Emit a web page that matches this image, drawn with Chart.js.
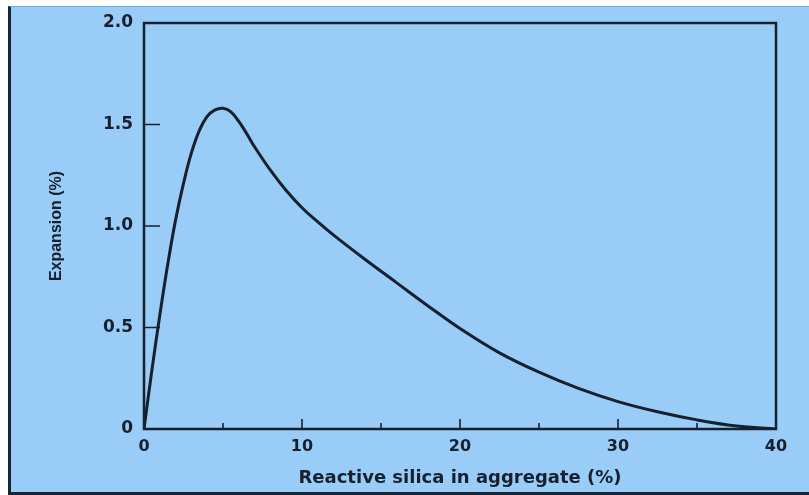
<!DOCTYPE html>
<html>
<head>
<meta charset="utf-8">
<script src="https://cdn.jsdelivr.net/npm/chart.js@4.4.0/dist/chart.umd.min.js"></script>
<style>
  html, body { margin: 0; padding: 0; background: #fff; }
  #wrap { position: relative; width: 809px; height: 495px; overflow: hidden; }
  #frame {
    position: absolute; left: 8px; top: 6px; right: 0; bottom: 0;
    background: #99cdf7;
    border-top: 1px solid #62a9e2;
    border-left: 3px solid #16263a;
    border-bottom: 3px solid #16263a;
  }
  #chart { position: absolute; left: 0; top: 0; }
</style>
</head>
<body>
<div id="wrap">
  <div id="frame"></div>
  <canvas id="chart" width="809" height="495"></canvas>
</div>
<script>
// readings taken off the figure
const silica    = [0, 0.5, 1.0, 1.5, 2.0, 2.5, 3.0, 3.5, 4.0, 4.5, 5.0, 5.5, 6.0, 6.5, 7.0, 8.0, 9.0, 10, 11, 12, 14, 16, 18, 20, 22.5, 25, 27.5, 30, 32.5, 35, 37.5, 40];
const expansion = [0, 0.29, 0.56, 0.81, 1.03, 1.21, 1.36, 1.47, 1.54, 1.572, 1.58, 1.562, 1.515, 1.455, 1.39, 1.275, 1.175, 1.09, 1.02, 0.955, 0.835, 0.72, 0.605, 0.495, 0.375, 0.28, 0.20, 0.135, 0.085, 0.045, 0.015, 0];

const xTicks = [0, 10, 20, 30, 40];
const xMinorTicks = [5, 15, 25, 35];
const yTicks = [0, 0.5, 1.0, 1.5, 2.0];

const ink = '#16202e';

// frame + inward tick marks, placed through the scales
const framePlugin = {
  id: 'frame',
  afterDatasetsDraw(chart) {
    const { ctx, chartArea: a, scales: { x, y } } = chart;
    ctx.save();
    ctx.strokeStyle = ink;
    ctx.lineWidth = 2.5;
    ctx.strokeRect(a.left, a.top, a.right - a.left, a.bottom - a.top);

    ctx.lineWidth = 1.6;
    ctx.beginPath();
    yTicks.forEach(v => {
      if (v === 0 || v === 2.0) return;
      const py = y.getPixelForValue(v);
      ctx.moveTo(a.left, py);
      ctx.lineTo(a.left + 16, py);
    });
    xTicks.forEach(v => {
      if (v === 0 || v === 40) return;
      const px = x.getPixelForValue(v);
      ctx.moveTo(px, a.bottom);
      ctx.lineTo(px, a.bottom - 10);
    });
    xMinorTicks.forEach(v => {
      const px = x.getPixelForValue(v);
      ctx.moveTo(px, a.bottom);
      ctx.lineTo(px, a.bottom - 6);
    });
    ctx.stroke();
    ctx.restore();
  }
};

new Chart(document.getElementById('chart'), {
  type: 'line',
  data: {
    datasets: [{
      data: silica.map((v, i) => ({ x: v, y: expansion[i] })),
      borderColor: ink,
      borderWidth: 3,
      pointRadius: 0,
      fill: false,
      tension: 0.4
    }]
  },
  options: {
    responsive: false,
    animation: false,
    layout: { padding: { left: 40, top: 23, right: 33, bottom: 6 } },
    plugins: { legend: { display: false }, tooltip: { enabled: false } },
    scales: {
      x: {
        type: 'linear',
        min: 0, max: 40,
        afterBuildTicks: s => { s.ticks = xTicks.map(v => ({ value: v })); },
        afterFit: s => { s.height = 60; },
        grid: { display: false, drawTicks: false },
        border: { display: false },
        ticks: {
          padding: 8,
          color: ink,
          font: { family: 'DejaVu Sans', size: 16, weight: 'bold' },
          maxRotation: 0
        },
        title: {
          display: true,
          text: 'Reactive silica in aggregate (%)',
          color: ink,
          padding: { top: 0, bottom: 0 },
          font: { family: 'DejaVu Sans', size: 18, weight: 'bold' }
        }
      },
      y: {
        min: 0, max: 2,
        afterBuildTicks: s => { s.ticks = yTicks.map(v => ({ value: v })); },
        afterFit: s => { s.width = 104; },
        grid: { display: false, drawTicks: false },
        border: { display: false },
        ticks: {
          padding: 11,
          color: ink,
          font: { family: 'DejaVu Sans', size: 17, weight: 'bold' },
          callback: v => (v === 0 ? '0' : v.toFixed(1))
        },
        title: {
          display: true,
          text: 'Expansion (%)',
          color: ink,
          padding: { top: 7, bottom: 0 },
          font: { family: 'Liberation Sans', size: 16, weight: 'bold' }
        }
      }
    }
  },
  plugins: [framePlugin]
});
</script>
</body>
</html>
